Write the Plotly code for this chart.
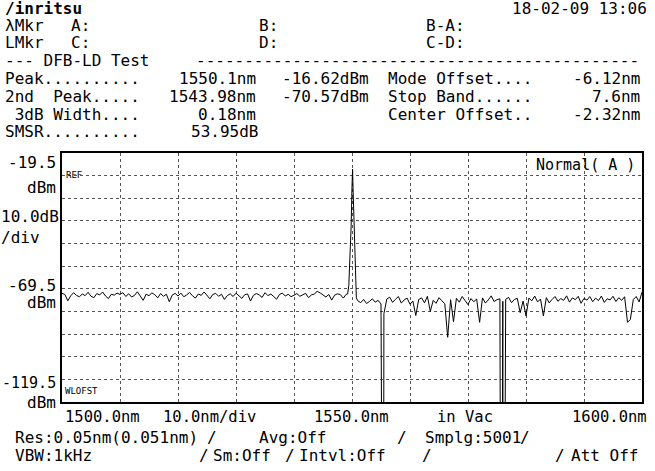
import numpy as np
import plotly.graph_objects as go

WL_START, WL_STOP = 1500.0, 1600.0
REF_LEVEL = -19.5
DB_PER_DIV = 10.0

# noise floor left of the laser line, 1500.0 .. 1549.0 nm every 0.5 nm
NOISE_LEFT_START = 1500.0
NOISE_LEFT = [
    -71.5, -72.0, -74.8, -72.6, -71.2, -72.4, -73.0, -71.8, -72.5, -71.0,
    -72.8, -73.4, -71.6, -72.2, -70.9, -72.7, -73.8, -71.9, -72.3, -71.4,
    -72.0, -71.2, -72.9, -71.7, -73.1, -72.4, -70.8, -72.6, -74.6, -71.9,
    -72.5, -71.3, -72.1, -73.5, -71.6, -72.8, -71.9, -75.2, -72.3, -71.5,
    -72.7, -71.4, -73.0, -72.2, -71.1, -72.6, -73.6, -71.8, -72.4, -70.9,
    -72.3, -73.9, -72.0, -71.5, -72.8, -71.9, -74.2, -72.5, -71.7, -72.9,
    -71.4, -72.6, -73.7, -72.1, -71.8, -74.9, -72.4, -71.6, -72.2, -73.3,
    -71.2, -72.5, -71.8, -72.9, -74.1, -72.0, -71.4, -72.7, -71.9, -73.0,
    -72.3, -71.6, -72.8, -72.0, -71.5, -73.4, -72.2, -71.8, -70.6, -71.3,
    -72.4, -73.1, -72.0, -74.5, -72.3, -71.7, -72.1, -73.6, -71.9,
]

# DFB laser line
PEAK_WL = [1549.25, 1549.45, 1549.65, 1549.85, 1550.0, 1550.1, 1550.2, 1550.35, 1550.55, 1550.75]
PEAK_DBM = [-71.8, -68.0, -56.0, -42.0, -24.0, -16.62, -27.0, -43.0, -63.0, -73.5]

# noise floor right of the laser line, 1551.0 .. 1600.0 nm every 0.5 nm
NOISE_RIGHT_START = 1551.0
NOISE_RIGHT = [
    -74.8, -75.6, -74.2, -76.0, -75.1, -73.9, -75.4, -74.6, -76.2, -80.5,
    -74.0, -73.2, -75.5, -74.1, -72.9, -75.8, -74.4, -73.6, -76.3, -74.9,
    -81.3, -74.2, -73.5, -75.7, -72.8, -79.5, -74.6, -75.9, -73.4, -74.8,
    -76.1, -90.9, -74.3, -84.0, -73.7, -75.4, -72.9, -74.7, -76.5, -73.8,
    -75.2, -74.0, -84.3, -73.5, -75.8, -74.4, -72.6, -75.1, -74.3, -73.9,
    -75.0, -74.1, -73.3, -75.6, -74.2, -73.7, -80.0, -74.9, -81.5, -73.6,
    -74.8, -72.7, -75.3, -74.0, -81.5, -73.4, -75.7, -74.2, -72.9, -75.0,
    -73.8, -74.6, -72.6, -75.4, -73.5, -74.3, -72.8, -75.9, -73.7, -74.5,
    -72.9, -75.2, -73.6, -74.7, -72.7, -75.5, -73.9, -74.4, -72.8, -75.1,
    -73.4, -74.6, -73.0, -84.3, -83.0, -74.2, -72.9, -75.3, -71.0,
]

# samples that fall far below the display (drawn off the bottom edge)
DROP_WL = [1555.05, 1555.4, 1575.75, 1576.1]
DROP_DBM = [-300.0, -300.0, -300.0, -300.0]

STEP = 0.5

wl = np.concatenate([
    NOISE_LEFT_START + STEP * np.arange(len(NOISE_LEFT)),
    np.array(PEAK_WL),
    NOISE_RIGHT_START + STEP * np.arange(len(NOISE_RIGHT)),
    np.array(DROP_WL),
])
lv = np.concatenate([NOISE_LEFT, PEAK_DBM, NOISE_RIGHT, DROP_DBM])
order = np.argsort(wl, kind="stable")
wl, lv = wl[order], lv[order]

# ---- figure ----
W, H = 655, 471
L, R, T, B = 62, 642, 153, 402

fig = go.Figure()
fig.add_trace(go.Scatter(x=wl, y=lv, mode="lines",
                         line=dict(color="black", width=1), hoverinfo="skip"))

ytop = REF_LEVEL + DB_PER_DIV
ybot = REF_LEVEL - 10 * DB_PER_DIV
axis_common = dict(showticklabels=False, ticks="", showgrid=True,
                   gridcolor="#555", gridwidth=1, griddash="dot",
                   showline=True, mirror=True, linecolor="black", linewidth=2,
                   zeroline=False, fixedrange=True)
fig.update_layout(
    width=W, height=H,
    margin=dict(l=L, r=W - R, t=T, b=H - B, pad=0),
    paper_bgcolor="white", plot_bgcolor="white",
    showlegend=False,
    xaxis=dict(range=[WL_START, WL_STOP], dtick=10, tick0=WL_START, **axis_common),
    yaxis=dict(range=[ybot, ytop], dtick=DB_PER_DIV, tick0=REF_LEVEL, **axis_common),
    font=dict(family="DejaVu Sans Mono", size=16, color="black"),
)

PW, PH = R - L, B - T


def px(x):
    return (x - L) / PW


def py(y):
    return (B - y) / PH


def txt(s, x, y, anchor="left", size=16, bold=False):
    fig.add_annotation(text=("<b>%s</b>" % s) if bold else s,
                       x=px(x), y=py(y), xref="paper", yref="paper",
                       xanchor=anchor, yanchor="middle", showarrow=False,
                       font=dict(family="DejaVu Sans Mono", size=size, color="black"),
                       borderpad=0)


# header
txt("/inritsu", 4, 8, bold=True, size=16)
txt("18-02-09 13:06", 648, 8, "right")
txt("λMkr", 4, 25); txt("A:", 70, 25); txt("B:", 258, 25); txt("B-A:", 425, 25)
txt("LMkr", 4, 42.5); txt("C:", 70, 42.5); txt("D:", 258, 42.5); txt("C-D:", 425, 42.5)
txt("--- DFB-LD Test", 4, 60.5)
txt("-" * 46, 640, 60.5, "right")
txt("Peak..........", 4, 78.5); txt("1550.1nm", 257, 78.5, "right")
txt("-16.62dBm", 370, 78.5, "right"); txt("Mode Offset....", 387, 78.5)
txt("-6.12nm", 641, 78.5, "right")
txt("2nd  Peak.....", 4, 96); txt("1543.98nm", 257, 96, "right")
txt("-70.57dBm", 370, 96, "right"); txt("Stop Band......", 387, 96)
txt("7.6nm", 641, 96, "right")
txt(" 3dB Width....", 4, 114); txt("0.18nm", 257, 114, "right")
txt("Center Offset..", 387, 114); txt("-2.32nm", 641, 114, "right")
txt("SMSR..........", 4, 131.5); txt("53.95dB", 259, 131.5, "right")

# level scale
txt("-19.5", 57, 162, "right"); txt("dBm", 57, 187, "right")
txt("10.0dB", 0, 216); txt("/div", 0, 237)
txt("-69.5", 57, 285, "right"); txt("dBm", 57, 302, "right")
txt("-119.5", 57, 383, "right", size=15); txt("dBm", 57, 402, "right")
txt("REF", 65, 175, size=9)
txt("WLOFST", 64, 391, size=9)
txt("Normal( A )", 535, 165, size=15)

# wavelength scale and settings
txt("1500.0nm", 64, 417, size=15.5); txt("10.0nm/div", 162, 417, size=15.5)
txt("1550.0nm", 313, 417, size=15.5); txt("in Vac", 436, 417, size=15.5)
txt("1600.0nm", 648, 417, "right", size=15.5)
txt("Res:0.05nm(0.051nm)", 14, 437); txt("/", 206, 437)
txt("Avg:Off", 258, 437); txt("/", 396, 437)
txt("Smplg:5001", 424, 437); txt("/", 519, 437)
txt("VBW:1kHz", 14, 455); txt("/", 198, 455); txt("Sm:Off", 212, 455)
txt("/", 284, 455); txt("Intvl:Off", 298, 455); txt("/", 421, 455)
txt("/", 554, 455); txt("Att Off", 570, 455)

fig.write_html("out.html", config={"displayModeBar": False},
               post_script="document.body.style.margin='0';document.body.style.padding='0';")
